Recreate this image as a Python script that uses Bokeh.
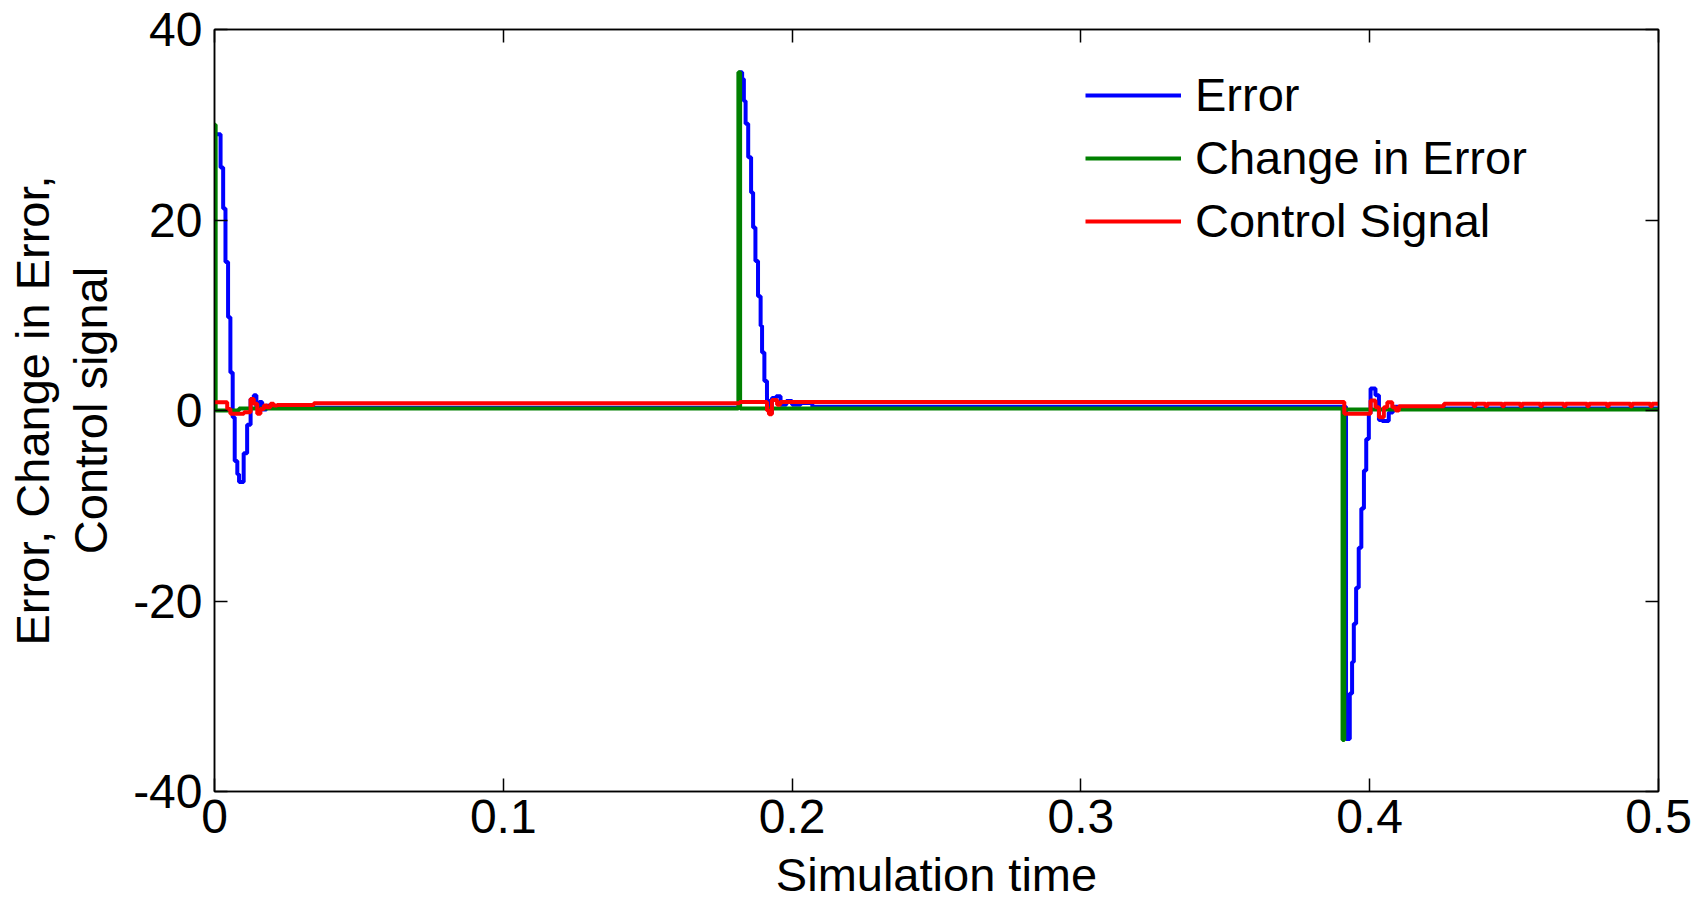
from bokeh.plotting import figure
from bokeh.models import LinearAxis, FixedTicker, Legend
from bokeh.embed import file_html
from bokeh.resources import INLINE

# ---- data (step breakpoints) ----
err_t = [0.0, 0.0021, 0.0030, 0.0038, 0.0047, 0.0055, 0.0063, 0.0070, 0.0079, 0.0085,
         0.0101, 0.0113, 0.0125, 0.0136, 0.0145, 0.0155, 0.0165, 0.0180, 0.0200,
         0.1818, 0.1827, 0.1833, 0.1839, 0.1848, 0.1858, 0.1865, 0.1873, 0.1882, 0.1891,
         0.1896, 0.1904, 0.1913, 0.1923, 0.1930, 0.1945, 0.1960, 0.1980, 0.2000, 0.2030,
         0.2070, 0.3918, 0.3931, 0.3939, 0.3945, 0.3953, 0.3962, 0.3971, 0.3980, 0.3988,
         0.3997, 0.4003, 0.4020, 0.4032, 0.4043, 0.4066, 0.4080, 0.4100, 0.5]
err_v = [29.0, 25.5, 21.2, 15.6, 9.8, 4.0, -0.7, -5.3, -6.7, -7.5,
         -4.5, -1.5, 1.2, 1.6, 0.3, 0.9, 0.1, 0.5, 0.3,
         35.5, 34.8, 32.5, 30.1, 26.6, 22.9, 19.2, 15.7, 12.0, 8.9,
         6.1, 3.1, 1.0, -0.3, 1.3, 1.5, 0.6, 1.0, 0.6, 0.8,
         0.4, -34.5, -29.7, -26.4, -22.4, -18.6, -14.4, -10.3, -6.3, -3.0,
         -0.3, 2.3, 1.6, -1.0, -1.1, -0.2, 0.4, 0.2, 0.2]

chg_t = [0.0, 0.0004, 0.0085, 0.1814, 0.1820, 0.3906, 0.3912, 0.5]
chg_v = [30.0, 0.0, 0.2, 35.5, 0.2, -34.6, 0.1, 0.1]

ctl_t = [0.0, 0.0044, 0.0055, 0.0102, 0.0125, 0.0136, 0.0148, 0.0159, 0.0171, 0.0182,
         0.0194, 0.0205, 0.0217, 0.0344, 0.1818, 0.1913, 0.1920, 0.1930, 0.1948, 0.1959,
         0.3912, 0.4003, 0.4020, 0.4032, 0.4049, 0.4061, 0.4078, 0.4090, 0.4101, 0.4257,
         0.4360, 0.4366, 0.4401, 0.4407, 0.4459, 0.4465, 0.4522, 0.4528, 0.4591, 0.4597,
         0.4672, 0.4678, 0.4753, 0.4759, 0.4822, 0.4828, 0.4903, 0.4909, 0.4972, 0.4978, 0.5]
ctl_v = [0.87, 0.17, -0.35, -0.18, 1.22, 0.7, -0.35, 0.17, 0.52, 0.35,
         0.7, 0.52, 0.59, 0.75, 0.9, 0.0, -0.4, 1.1, 0.6, 0.9,
         -0.35, 1.05, 0.35, -0.7, 0.35, 0.87, 0.35, 0.0, 0.45, 0.7,
         0.45, 0.7, 0.45, 0.7, 0.45, 0.7, 0.45, 0.7, 0.45, 0.7,
         0.45, 0.7, 0.45, 0.7, 0.45, 0.7, 0.45, 0.7, 0.45, 0.7, 0.7]

x_ticks = [0, 0.1, 0.2, 0.3, 0.4, 0.5]
x_tick_labels = ["0", "0.1", "0.2", "0.3", "0.4", "0.5"]
y_ticks = [-40, -20, 0, 20, 40]
y_tick_labels = ["-40", "-20", "0", "20", "40"]
x_title = "Simulation time"
y_title = "Error, Change in Error,\nControl signal"

FONT = "Liberation Sans"
TICK_FS = "48px"
LABEL_FS = "47px"

p = figure(width=1706, height=904, output_backend="svg", toolbar_location=None,
           x_range=(0, 0.5), y_range=(-40, 40),
           min_border_left=214, min_border_right=48, min_border_top=29, min_border_bottom=113,
           x_axis_label=x_title, y_axis_label=y_title)
p.background_fill_color = "white"
p.border_fill_color = "white"
p.outline_line_color = "black"
p.outline_line_width = 1.5
p.xgrid.visible = False
p.ygrid.visible = False

r1 = p.step(err_t, err_v, mode="after", line_color="#0000FF", line_width=4)
r2 = p.step(chg_t, chg_v, mode="after", line_color="#008000", line_width=4)
r3 = p.step(ctl_t, ctl_v, mode="after", line_color="#FF0000", line_width=4)

def style_axis(ax, ticks, labels, show_labels=True):
    ax.ticker = FixedTicker(ticks=ticks)
    ax.minor_tick_line_color = None
    ax.major_tick_in = 13
    ax.major_tick_out = 0
    ax.major_tick_line_color = "black"
    ax.major_tick_line_width = 1.5
    ax.axis_line_color = "black"
    ax.axis_line_width = 1.5
    if show_labels:
        ax.major_label_overrides = {t: l for t, l in zip(ticks, labels)}
        ax.major_label_text_font = FONT
        ax.major_label_text_font_size = TICK_FS
        ax.major_label_text_color = "black"
        ax.axis_label_text_font = FONT
        ax.axis_label_text_font_size = LABEL_FS
        ax.axis_label_text_font_style = "normal"
        ax.axis_label_text_color = "black"
    else:
        ax.major_label_text_font_size = "1px"
        ax.major_label_text_color = None
        ax.major_label_standoff = 0

xa = p.xaxis[0]
style_axis(xa, x_ticks, x_tick_labels)
xa.major_label_standoff = 8
xa.axis_label_standoff = 12

ya = p.yaxis[0]
style_axis(ya, y_ticks, y_tick_labels)
ya.major_label_standoff = 12
ya.axis_label_standoff = 13
ya.axis_label_text_line_height = 1.1

top_ax = LinearAxis()
style_axis(top_ax, x_ticks, x_tick_labels, show_labels=False)
p.add_layout(top_ax, "above")
right_ax = LinearAxis()
style_axis(right_ax, y_ticks, y_tick_labels, show_labels=False)
p.add_layout(right_ax, "right")

legend = Legend(items=[("Error", [r1]), ("Change in Error", [r2]), ("Control Signal", [r3])],
                location=(871, 543))
legend.border_line_color = None
legend.background_fill_alpha = 0
legend.padding = 0
legend.margin = 0
legend.spacing = 8
legend.glyph_width = 96
legend.glyph_height = 50
legend.label_height = 50
legend.label_standoff = 14
legend.label_text_font = FONT
legend.label_text_font_size = LABEL_FS
legend.label_text_color = "black"
p.add_layout(legend)

open("out.html", "w").write(file_html(p, INLINE))
